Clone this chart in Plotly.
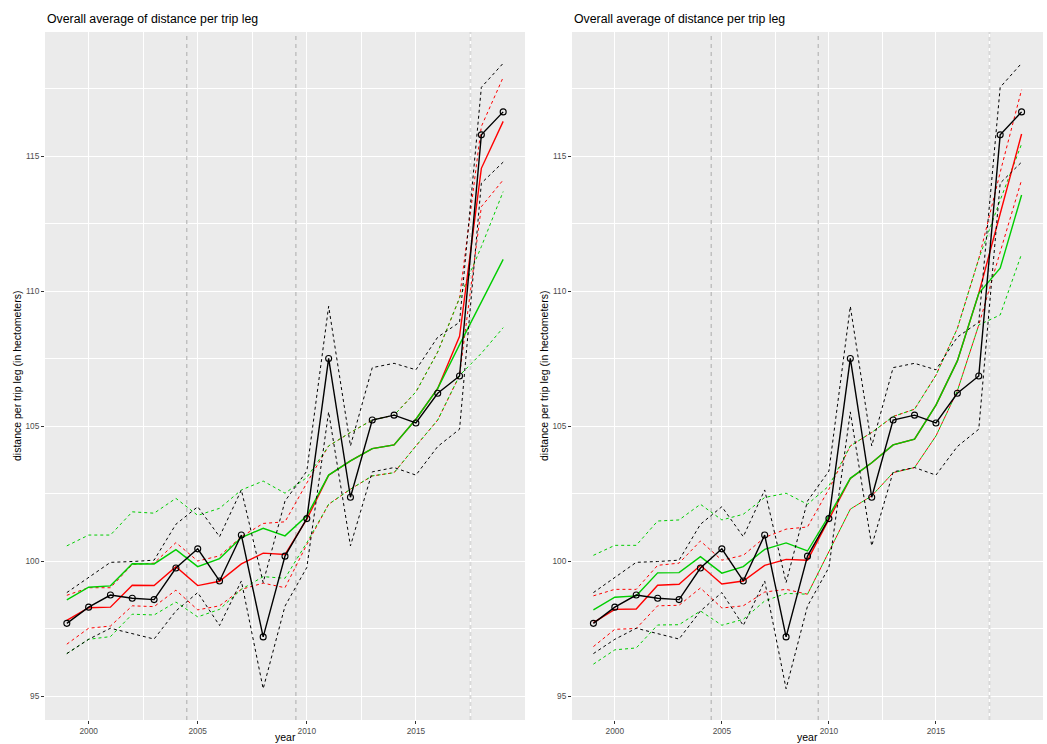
import plotly.graph_objects as go

# ---------------- data ----------------
years = list(range(1999, 2020))

observed = [97.70, 98.30, 98.75, 98.63, 98.58, 99.75, 100.46, 99.27, 100.97, 97.20,
            100.19, 101.58, 107.51, 102.37, 105.23, 105.41, 105.12, 106.22, 106.86, 115.79, 116.64]
observed_hi = [98.84, 99.40, 99.96, 99.99, 100.04, 101.37, 102.02, 100.91, 102.64, 99.21,
               102.23, 103.34, 109.44, 104.27, 107.17, 107.33, 107.09, 108.30, 108.85, 117.55, 118.44]
observed_lo = [96.58, 97.11, 97.52, 97.32, 97.12, 98.16, 98.84, 97.62, 99.27, 95.28,
               98.34, 99.77, 105.53, 100.57, 103.31, 103.47, 103.19, 104.25, 104.89, 114.00, 114.78]

# left panel (model A)
a_red = [97.81, 98.28, 98.30, 99.11, 99.10, 99.80, 99.10, 99.26, 99.90, 100.30,
         100.25, 101.56, 103.19, 103.72, 104.17, 104.31, 105.26, 106.40, 108.33, 114.55, 116.29]
a_red_hi = [98.74, 99.02, 99.02, 99.88, 99.93, 100.69, 100.01, 100.20, 100.91, 101.40,
            101.46, 102.90, 104.27, 104.77, 105.23, 105.41, 106.27, 107.75, 109.75, 116.10, 117.92]
a_red_lo = [96.93, 97.52, 97.60, 98.35, 98.32, 98.93, 98.20, 98.35, 98.96, 99.19,
            99.02, 100.62, 102.11, 102.67, 103.16, 103.28, 104.27, 105.23, 106.88, 113.13, 114.12]
a_green = [98.57, 99.04, 99.09, 99.91, 99.90, 100.43, 99.80, 100.10, 100.88, 101.22,
           100.94, 101.68, 103.19, 103.72, 104.17, 104.31, 105.26, 106.40, 108.02, 109.61, 111.18]
a_green_hi = [100.57, 100.97, 100.97, 101.83, 101.78, 102.33, 101.70, 101.96, 102.64, 102.97,
              102.52, 103.10, 104.27, 104.77, 105.23, 105.41, 106.27, 107.75, 109.75, 111.65, 113.69]
a_green_lo = [96.58, 97.11, 97.21, 98.04, 98.01, 98.49, 97.94, 98.22, 98.96, 99.43,
              99.37, 100.69, 102.11, 102.67, 103.16, 103.28, 104.27, 105.23, 106.88, 107.70, 108.65]

# right panel (model B)
b_red = [97.73, 98.22, 98.23, 99.11, 99.15, 99.85, 99.16, 99.27, 99.85, 100.07,
         100.04, 101.58, 103.07, 103.65, 104.31, 104.52, 105.78, 107.42, 109.92, 112.87, 115.82]
b_red_hi = [98.72, 98.96, 98.96, 99.85, 99.93, 100.75, 100.04, 100.22, 100.88, 101.19,
            101.27, 102.67, 104.27, 104.77, 105.36, 105.63, 106.89, 108.62, 111.20, 114.40, 117.46]
b_red_lo = [96.84, 97.48, 97.51, 98.35, 98.37, 99.01, 98.27, 98.35, 98.86, 98.96,
            98.78, 100.38, 101.93, 102.42, 103.28, 103.47, 104.64, 106.31, 108.75, 111.45, 114.12]
b_green = [98.20, 98.67, 98.72, 99.57, 99.58, 100.17, 99.56, 99.80, 100.44, 100.68,
           100.38, 101.68, 103.07, 103.65, 104.31, 104.52, 105.78, 107.42, 109.92, 110.85, 113.56]
b_green_hi = [100.22, 100.59, 100.59, 101.49, 101.53, 102.11, 101.53, 101.74, 102.36, 102.52,
              102.11, 102.79, 104.27, 104.77, 105.36, 105.63, 106.89, 108.62, 111.20, 113.37, 115.45]
b_green_lo = [96.19, 96.72, 96.79, 97.64, 97.65, 98.16, 97.63, 97.85, 98.53, 98.81,
              98.78, 100.38, 101.93, 102.42, 103.28, 103.47, 104.64, 106.31, 108.75, 109.12, 111.38]

x_major = [2000, 2005, 2010, 2015]
x_minor = [2002.5, 2007.5, 2012.5, 2017.5]
y_major = [95, 100, 105, 110, 115]
y_minor = [97.5, 102.5, 107.5, 112.5, 117.5]
break_years = [2004.5, 2009.5]
forecast_start = [2017.5]

title_text = "Overall average of distance per trip leg"
x_title = "year"
y_title = "distance per trip leg (in hectometers)"

# ---------------- styling ----------------
W, H = 1047, 744
BLACK, RED, GREEN = "#000000", "#FF0000", "#00CD00"
FONT = "Liberation Sans, Arial, Helvetica, sans-serif"
DASH = "3px,3px"

all_vals = observed + observed_hi + observed_lo + a_red + a_red_hi + a_red_lo + a_green + \
    a_green_hi + a_green_lo + b_red + b_red_hi + b_red_lo + b_green + b_green_hi + b_green_lo
ymin, ymax = min(all_vals), max(all_vals)
ypad = (ymax - ymin) * 0.05
xpad = (max(years) - min(years)) * 0.05
yrange = [ymin - ypad, ymax + ypad]
xrange = [min(years) - xpad, max(years) + xpad]

fig = go.Figure()


def add_panel(xa, ya, red, red_hi, red_lo, green, green_hi, green_lo):
    # reference vertical lines first (beneath the data)
    for bx in break_years:
        fig.add_trace(go.Scatter(x=[bx, bx], y=yrange, mode="lines",
                                 line=dict(color="#ABABAB", width=1, dash="4px,4px"),
                                 xaxis=xa, yaxis=ya, showlegend=False, hoverinfo="skip"))
    for fx in forecast_start:
        fig.add_trace(go.Scatter(x=[fx, fx], y=yrange, mode="lines",
                                 line=dict(color="#D9D9D9", width=2, dash="4px,3px"),
                                 xaxis=xa, yaxis=ya, showlegend=False, hoverinfo="skip"))
    specs = [
        (red_hi, RED, DASH, 1.0), (red_lo, RED, DASH, 1.0),
        (green_hi, GREEN, DASH, 1.0), (green_lo, GREEN, DASH, 1.0),
        (red, RED, "solid", 1.4), (green, GREEN, "solid", 1.4),
        (observed_hi, BLACK, DASH, 1.0), (observed_lo, BLACK, DASH, 1.0),
    ]
    for ys, col, d, w in specs:
        fig.add_trace(go.Scatter(x=years, y=ys, mode="lines",
                                 line=dict(color=col, width=w, dash=d),
                                 xaxis=xa, yaxis=ya, showlegend=False, hoverinfo="skip"))
    fig.add_trace(go.Scatter(x=years, y=observed, mode="lines+markers",
                             line=dict(color=BLACK, width=1.4),
                             marker=dict(symbol="circle-open", size=6, color=BLACK,
                                         line=dict(width=1.1, color=BLACK)),
                             xaxis=xa, yaxis=ya, showlegend=False, hoverinfo="skip"))


add_panel("x", "y", a_red, a_red_hi, a_red_lo, a_green, a_green_hi, a_green_lo)
add_panel("x2", "y2", b_red, b_red_hi, b_red_lo, b_green, b_green_hi, b_green_lo)

panels = [(45, 525), (572, 1043)]
top_px, bot_px = 32, 720

common_x = dict(range=xrange, tickmode="array", tickvals=x_major, ticktext=[str(v) for v in x_major],
                showgrid=True, gridcolor="white", gridwidth=1.3, zeroline=False, showline=False,
                ticks="outside", ticklen=3, tickwidth=1, tickcolor="#333333",
                tickfont=dict(size=8.3, color="#4D4D4D", family=FONT),
                minor=dict(tickmode="array", tickvals=x_minor, showgrid=True, gridcolor="white",
                           gridwidth=0.6, ticks=""),
                fixedrange=True)
common_y = dict(range=yrange, tickmode="array", tickvals=y_major, ticktext=[str(v) for v in y_major],
                showgrid=True, gridcolor="white", gridwidth=1.3, zeroline=False, showline=False,
                ticks="outside", ticklen=3, tickwidth=1, tickcolor="#333333",
                tickfont=dict(size=8.3, color="#4D4D4D", family=FONT),
                minor=dict(tickmode="array", tickvals=y_minor, showgrid=True, gridcolor="white",
                           gridwidth=0.6, ticks=""),
                fixedrange=True)

ydom = [1 - bot_px / H, 1 - top_px / H]
fig.update_layout(
    width=W, height=H,
    margin=dict(l=0, r=0, t=0, b=0),
    paper_bgcolor="white", plot_bgcolor="#EBEBEB",
    xaxis=dict(domain=[panels[0][0] / W, panels[0][1] / W], anchor="y", **common_x),
    yaxis=dict(domain=ydom, anchor="x", **common_y),
    xaxis2=dict(domain=[panels[1][0] / W, panels[1][1] / W], anchor="y2", **common_x),
    yaxis2=dict(domain=ydom, anchor="x2", **common_y),
    showlegend=False,
    font=dict(family=FONT),
)

annotations = []
for (x0, x1), ytx in zip(panels, [17, 544]):
    annotations.append(dict(text=title_text, x=x0 / W, y=1 - 19 / H, xref="paper", yref="paper",
                            xanchor="left", yanchor="middle", showarrow=False,
                            font=dict(size=12.3, color="black", family=FONT)))
    annotations.append(dict(text=x_title, x=(x0 + x1) / 2 / W, y=0, xref="paper", yref="paper",
                            xanchor="center", yanchor="bottom", showarrow=False, borderpad=0,
                            font=dict(size=10.5, color="black", family=FONT)))
    annotations.append(dict(text=y_title, x=ytx / W, y=1 - (top_px + bot_px) / 2 / H, xref="paper",
                            yref="paper", xanchor="center", yanchor="middle", showarrow=False,
                            textangle=-90, font=dict(size=10.5, color="black", family=FONT)))
fig.update_layout(annotations=annotations)

fig.write_html("out.html")
